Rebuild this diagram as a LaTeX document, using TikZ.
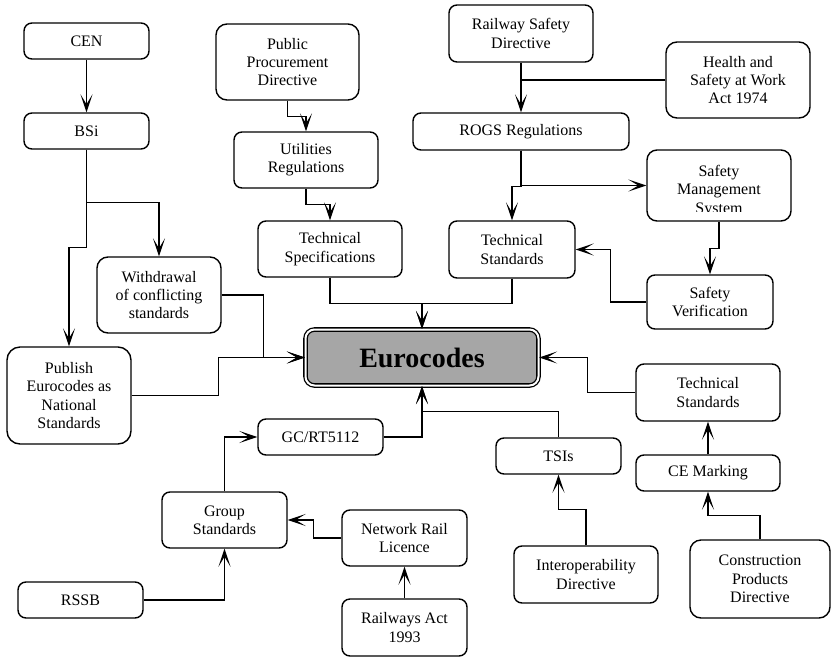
\documentclass[tikz,border=0pt]{standalone}
\usepackage{fontspec}
\setmainfont{Liberation Serif}
\usetikzlibrary{arrows.meta,calc}
\definecolor{eurogray}{RGB}{166,166,166}
\begin{document}
\begin{tikzpicture}[x=1pt,y=-1pt,
  box/.style={draw, line width=1.4pt, rounded corners=8pt, inner sep=0pt, align=center,
    font=\fontsize{16}{18.3}\selectfont},
  conn/.style={line width=1.3pt, -{Stealth[length=18pt,width=12pt,inset=10pt]}},
  plain/.style={line width=1.3pt},
  euro/.style={draw, line width=1.3pt, double, double distance=2pt, fill=eurogray,
    rounded corners=9pt, inner sep=0pt, font=\fontsize{28}{30}\selectfont\bfseries}]
\useasboundingbox (0,0) rectangle (831,657);
% nodes
\node[box, minimum width=125, minimum height=36] (cen) at (86.5,41) {CEN};
\node[box, minimum width=125, minimum height=36] (bsi) at (86.5,131) {BSi};
\node[box, minimum width=143, minimum height=76, rounded corners=11pt] (ppd) at (287.5,62) {Public\\Procurement\\Directive};
\node[box, minimum width=144, minimum height=56] (util) at (306,160) {Utilities\\Regulations};
\node[box, minimum width=144, minimum height=56] (tspec) at (330,249) {Technical\\Specifications};
\node[box, minimum width=124, minimum height=76, rounded corners=11pt] (withd) at (159,295) {Withdrawal\\of conflicting\\standards};
\node[box, minimum width=124, minimum height=97, rounded corners=13pt] (publ) at (69,395.5) {Publish\\Eurocodes as\\National\\Standards};
\node[euro, minimum width=233, minimum height=56] (eur) at (422,357.5) {Eurocodes};
\node[box, minimum width=125, minimum height=36] (gcrt) at (320.5,437) {GC/RT5112};
\node[box, minimum width=125, minimum height=56] (group) at (224.5,520) {Group\\Standards};
\node[box, minimum width=125, minimum height=36] (rssb) at (80.5,600) {RSSB};
\node[box, minimum width=125, minimum height=56] (nrl) at (404.5,538) {Network Rail\\Licence};
\node[box, minimum width=125, minimum height=57] (ract) at (404.5,627.5) {Railways Act\\1993};
\node[box, minimum width=125, minimum height=36] (tsis) at (558.5,456) {TSIs};
\node[box, minimum width=144, minimum height=57] (interop) at (586,574.5) {Interoperability\\Directive};
\node[box, minimum width=144, minimum height=57] (tstdR) at (708,392.5) {Technical\\Standards};
\node[box, minimum width=144, minimum height=36] (ce) at (708,473) {CE Marking};
\node[box, minimum width=140, minimum height=78, rounded corners=11pt] (cpd) at (760,579) {Construction\\Products\\Directive};
\node[box, minimum width=144, minimum height=57] (rsd) at (521,33.5) {Railway Safety\\Directive};
\node[box, minimum width=144, minimum height=76, rounded corners=11pt] (hsw) at (738,80) {Health and\\Safety at Work\\Act 1974};
\node[box, minimum width=216, minimum height=37] (rogs) at (521,131.5) {ROGS Regulations};
\node[box, minimum width=144, minimum height=71, rounded corners=10pt] (sms) at (719,185.5) {};
\begin{scope}
  \clip (640,150) rectangle (800,211);
  \node[align=center, inner sep=0pt, font=\fontsize{16}{18.3}\selectfont] (smstext) at (719,191) {Safety\\Management\\System};
\end{scope}
\node[box, minimum width=126, minimum height=57] (tstdT) at (512,249.5) {Technical\\Standards};
\node[box, minimum width=126, minimum height=54] (sv) at (710,302) {Safety\\Verification};
% connectors
\draw[conn] (cen.south) -- (bsi.north);
\draw[conn] (bsi.south) -- ++(0,53) -| (withd.north);
\draw[conn] (bsi.south) -- ++(0,98) -| (publ.north);
\draw[conn] (ppd.south) -- ++(0,16) -| (util.north);
\draw[conn] (util.south) -- ++(0,16) -| (tspec.north);
\draw[conn] (tspec.south) -- ++(0,26) -| (eur.north);
\draw[conn] (tstdT.south) -- ++(0,25) -| (eur.north);
\draw[conn] (withd.east) -- ++(42,0) |- (eur.west);
\draw[conn] (publ.east) -- ++(87,0) |- (eur.west);
\draw[conn] (rsd.south) -- (rogs.north);
\draw[plain] (hsw.west) -- (hsw.west -| rsd.south);
\draw[conn] (rogs.south) |- (sms.west);
\draw[conn] (rogs.south) -- ++(0,36) -| (tstdT.north);
\draw[conn] (sms.south) -- ++(0,27) -| (sv.north);
\draw[conn] (sv.west) -- ++(-36,0) |- (tstdT.east);
\draw[conn] (tstdR.west) -- ++(-48,0) |- (eur.east);
\draw[conn] (ce.north) -- (tstdR.south);
\draw[conn] (cpd.north) -- ++(0,-24) -| (ce.south);
\draw[conn] (tsis.north) -- ++(0,-26) -| (eur.south);
\draw[conn] (gcrt.east) -| (eur.south);
\draw[conn] (interop.north) -- ++(0,-36) -| (tsis.south);
\draw[conn] (group.north) |- (gcrt.west);
\draw[conn] (nrl.west) -- ++(-28,0) |- (group.east);
\draw[conn] (ract.north) -- (nrl.south);
\draw[conn] (rssb.east) -| (group.south);
\end{tikzpicture}
\end{document}
